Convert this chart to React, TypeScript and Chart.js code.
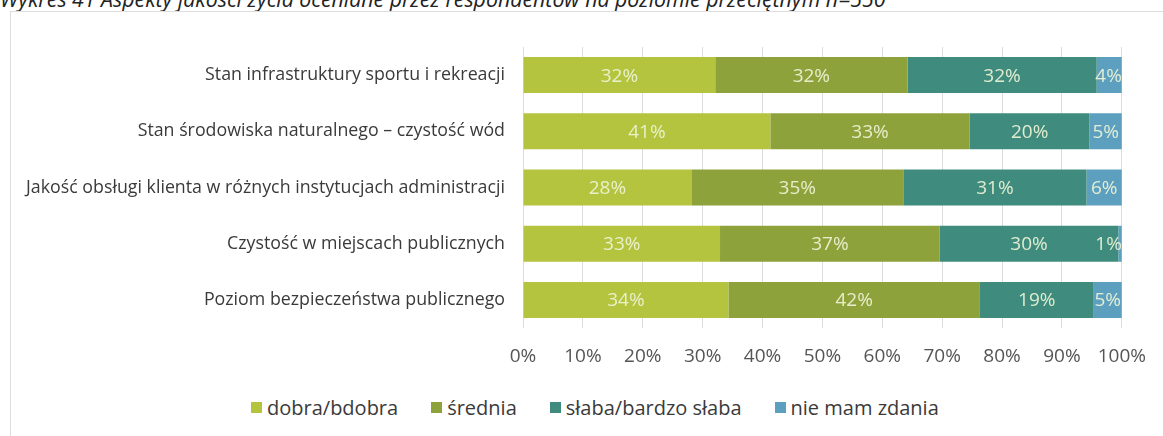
import React, { useEffect, useRef } from "react";
import { Chart, registerables } from "chart.js";

Chart.register(...registerables);

const TITLE = "Wykres 41 Aspekty jakości życia oceniane przez respondentów na poziomie przeciętnym n=550";

const categories = [
  "Stan infrastruktury sportu i rekreacji",
  "Stan środowiska naturalnego – czystość wód",
  "Jakość obsługi klienta w różnych instytucjach administracji",
  "Czystość w miejscach publicznych",
  "Poziom bezpieczeństwa publicznego",
];

const seriesNames = ["dobra/bdobra", "średnia", "słaba/bardzo słaba", "nie mam zdania"];
const seriesColors = ["#b5c43e", "#8ea23c", "#3f8c7e", "#5d9fbf"];

// shares in % (labels show them rounded)
const dobra = [32.1, 41.3, 28.1, 32.9, 34.3];
const srednia = [32.1, 33.3, 35.4, 36.7, 42.0];
const slaba = [31.6, 20.0, 30.6, 29.8, 19.0];
const nieMam = [4.2, 5.4, 5.9, 0.6, 4.7];

const xTicks = [0, 10, 20, 30, 40, 50, 60, 70, 80, 90, 100];

const FONT = "'Open Sans', sans-serif";

const valueLabels = {
  id: "valueLabels",
  afterDatasetsDraw(chart: any) {
    const ctx = chart.ctx;
    const area = chart.chartArea;
    ctx.save();
    ctx.font = `19px ${FONT}`;
    ctx.fillStyle = "rgba(238,244,214,0.92)";
    ctx.textAlign = "center";
    ctx.textBaseline = "middle";
    chart.data.datasets.forEach((ds: any, di: number) => {
      const meta = chart.getDatasetMeta(di);
      meta.data.forEach((bar: any, i: number) => {
        const txt = Math.round(ds.data[i]) + "%";
        const w = ctx.measureText(txt).width;
        const left = Math.min(bar.x, bar.base);
        const right = Math.max(bar.x, bar.base);
        const cx = Math.min((left + right) / 2, area.right - w / 2);
        ctx.fillText(txt, cx, bar.y + 1);
      });
    });
    ctx.restore();
  },
};

export default function App() {
  const ref = useRef<HTMLCanvasElement>(null);

  useEffect(() => {
    if (!ref.current) return;
    const data = [dobra, srednia, slaba, nieMam];
    const chart = new Chart(ref.current, {
      type: "bar",
      data: {
        labels: categories,
        datasets: seriesNames.map((name, i) => ({
          label: name,
          data: data[i],
          backgroundColor: seriesColors[i],
          borderWidth: 0,
          barPercentage: 0.64,
          categoryPercentage: 1,
        })),
      },
      options: {
        indexAxis: "y",
        animation: false,
        responsive: false,
        maintainAspectRatio: false,
        layout: { padding: { top: 29, right: 41, left: 0, bottom: 0 } },
        plugins: {
          legend: { display: false },
          tooltip: { enabled: false },
        },
        scales: {
          x: {
            stacked: true,
            min: 0,
            max: 100,
            afterFit: (s: any) => {
              s.height = 50;
            },
            afterBuildTicks: (s: any) => {
              s.ticks = xTicks.map((v) => ({ value: v }));
            },
            grid: { color: "#dcdcdc", drawTicks: false, lineWidth: 1 },
            border: { display: false },
            ticks: {
              padding: 17,
              color: "#555555",
              font: { family: FONT, size: 19 },
              callback: (v: any) => v + "%",
            },
          },
          y: {
            stacked: true,
            afterFit: (s: any) => {
              s.width = 523;
            },
            grid: { display: false, drawTicks: false },
            border: { display: false },
            ticks: {
              padding: 18,
              color: "#3a3a3a",
              font: { family: FONT, size: 17.8 },
            },
          },
        },
      },
      plugins: [valueLabels],
    });
    return () => chart.destroy();
  }, []);

  return (
    <div
      style={{
        position: "fixed",
        left: 0,
        top: 0,
        width: 1163,
        height: 436,
        background: "#ffffff",
        overflow: "hidden",
        fontFamily: FONT,
      }}
    >
      <div
        style={{
          position: "absolute",
          left: 0,
          top: -16,
          fontStyle: "italic",
          fontSize: 21.3,
          color: "#222",
          whiteSpace: "nowrap",
        }}
      >
        {TITLE}
      </div>
      <div
        style={{
          position: "absolute",
          left: 10,
          top: 11,
          width: 1160,
          height: 440,
          border: "1px solid #dedede",
        }}
      />
      <canvas
        ref={ref}
        width={1163}
        height={360}
        style={{ position: "absolute", left: 0, top: 18, width: 1163, height: 360 }}
      />
      <div
        style={{
          position: "absolute",
          left: 251,
          top: 394,
          display: "flex",
          alignItems: "center",
          fontSize: 20,
          color: "#3a3a3a",
          whiteSpace: "nowrap",
        }}
      >
        {seriesNames.map((n, i) => (
          <div key={n} style={{ display: "flex", alignItems: "center", marginRight: 33 }}>
            <span
              style={{
                display: "inline-block",
                width: 11,
                height: 11,
                background: seriesColors[i],
                marginRight: 5,
              }}
            />
            <span>{n}</span>
          </div>
        ))}
      </div>
    </div>
  );
}
